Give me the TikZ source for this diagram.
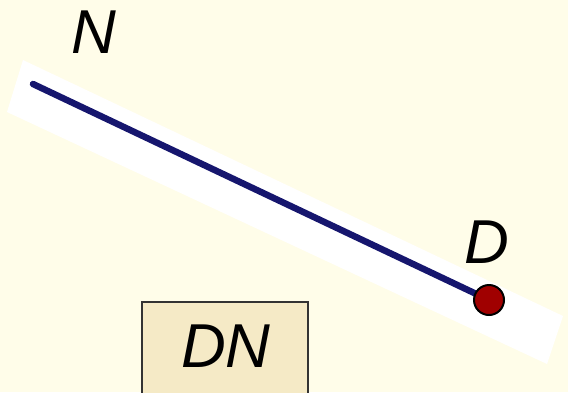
\documentclass[tikz,border=0pt]{standalone}
\usepackage{fontspec}
\setmainfont{Liberation Sans}
\definecolor{bgc}{HTML}{FFFDE9}
\definecolor{navy}{HTML}{16166E}
\definecolor{dred}{HTML}{A00000}
\definecolor{boxc}{HTML}{F5EAC6}
\tikzset{
  lbl/.style={font=\fontsize{62}{62}\selectfont\itshape, inner sep=0pt},
}
\begin{document}
\begin{tikzpicture}[x=1pt,y=-1pt]
\fill[bgc] (0,0) rectangle (568,392);
\useasboundingbox (0,0) rectangle (568,392);
% white band
\fill[white] (23,60) -- (563,316) -- (547,364) -- (7,112) -- cycle;
\coordinate (n) at (33,84);
\coordinate (d) at (489,300);
\draw[navy, line width=6.5pt, line cap=round] (n) -- (d);
\node[circle, draw=black, line width=2pt, fill=dred, minimum size=30pt, inner sep=0pt] (dot) at (d) {};
\node[lbl] (lN) at (94,32) {N};
\node[lbl] (lD) at (487,242) {D};
\node[draw=black!80, line width=1.3pt, fill=boxc, minimum width=166pt, minimum height=96pt, inner sep=0pt] (box) at (225,350) {};
\node[lbl] (lDN) at (226,346) {DN};
\end{tikzpicture}
\end{document}
